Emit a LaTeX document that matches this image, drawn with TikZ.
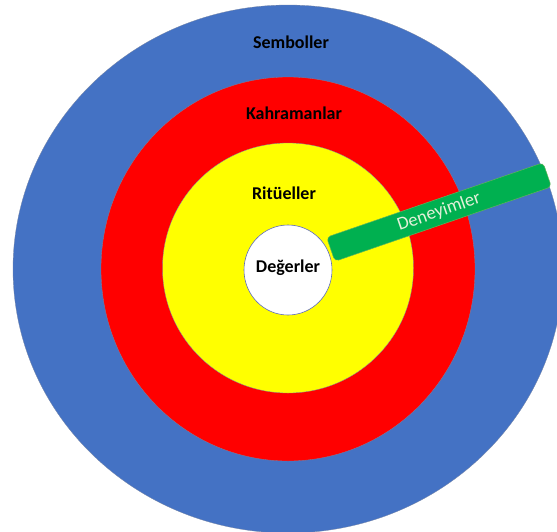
\documentclass[tikz,border=0pt]{standalone}
\usepackage{fontspec}
\setmainfont{Carlito}
\usetikzlibrary{shapes.geometric}
\definecolor{ringblue}{RGB}{68,114,196}
\definecolor{ringred}{RGB}{255,0,0}
\definecolor{ringyellow}{RGB}{255,255,0}
\definecolor{barfill}{RGB}{0,176,80}
\definecolor{baredge}{RGB}{100,180,90}
\definecolor{bartext}{RGB}{226,240,217}
\definecolor{rimline}{RGB}{120,135,165}
\begin{document}
\begin{tikzpicture}[x=1pt,y=-1pt,
  ring/.style={ellipse, inner sep=0pt, outer sep=0pt, draw=rimline, line width=0.3pt},
  ringlabel/.style={font=\fontsize{18}{20}\selectfont\bfseries, text=black, inner sep=0pt},
  barbox/.style={rectangle, rounded corners=4pt, fill=barfill, draw=baredge, line width=0.5pt,
    inner sep=0pt, text=bartext, font=\fontsize{18.5}{20}\selectfont}
]
\useasboundingbox (0,0) rectangle (557,531);
\clip (0,0) rectangle (557,531);

% concentric layers, outermost first
\node[ring, fill=ringblue,   minimum width=550pt, minimum height=528pt] (symbols) at (288,269) {};
\node[ring, fill=ringred,    minimum width=374pt, minimum height=384pt] (heroes)  at (288,269) {};
\node[ring, fill=ringyellow, minimum width=251pt, minimum height=250pt] (rituals) at (288,268) {};
\node[ring, fill=white,      minimum width=88pt,  minimum height=90pt, draw=rimline!80!blue, line width=0.6pt] (values) at (288,270) {};

% layer labels
\node[ringlabel] (symbolsL) at (291,42)  {Semboller};
\node[ringlabel] (heroesL)  at (294,113) {Kahramanlar};
\node[ringlabel] (ritualsL) at (284,193) {Ritüeller};
\node[ringlabel] (valuesL)  at (288,268) {Değerler};

% slanted bar crossing the layers
\node[barbox, rotate=19, minimum width=229pt, minimum height=25.5pt] (experience) at (439,212) {Deneyimler};
\end{tikzpicture}
\end{document}
